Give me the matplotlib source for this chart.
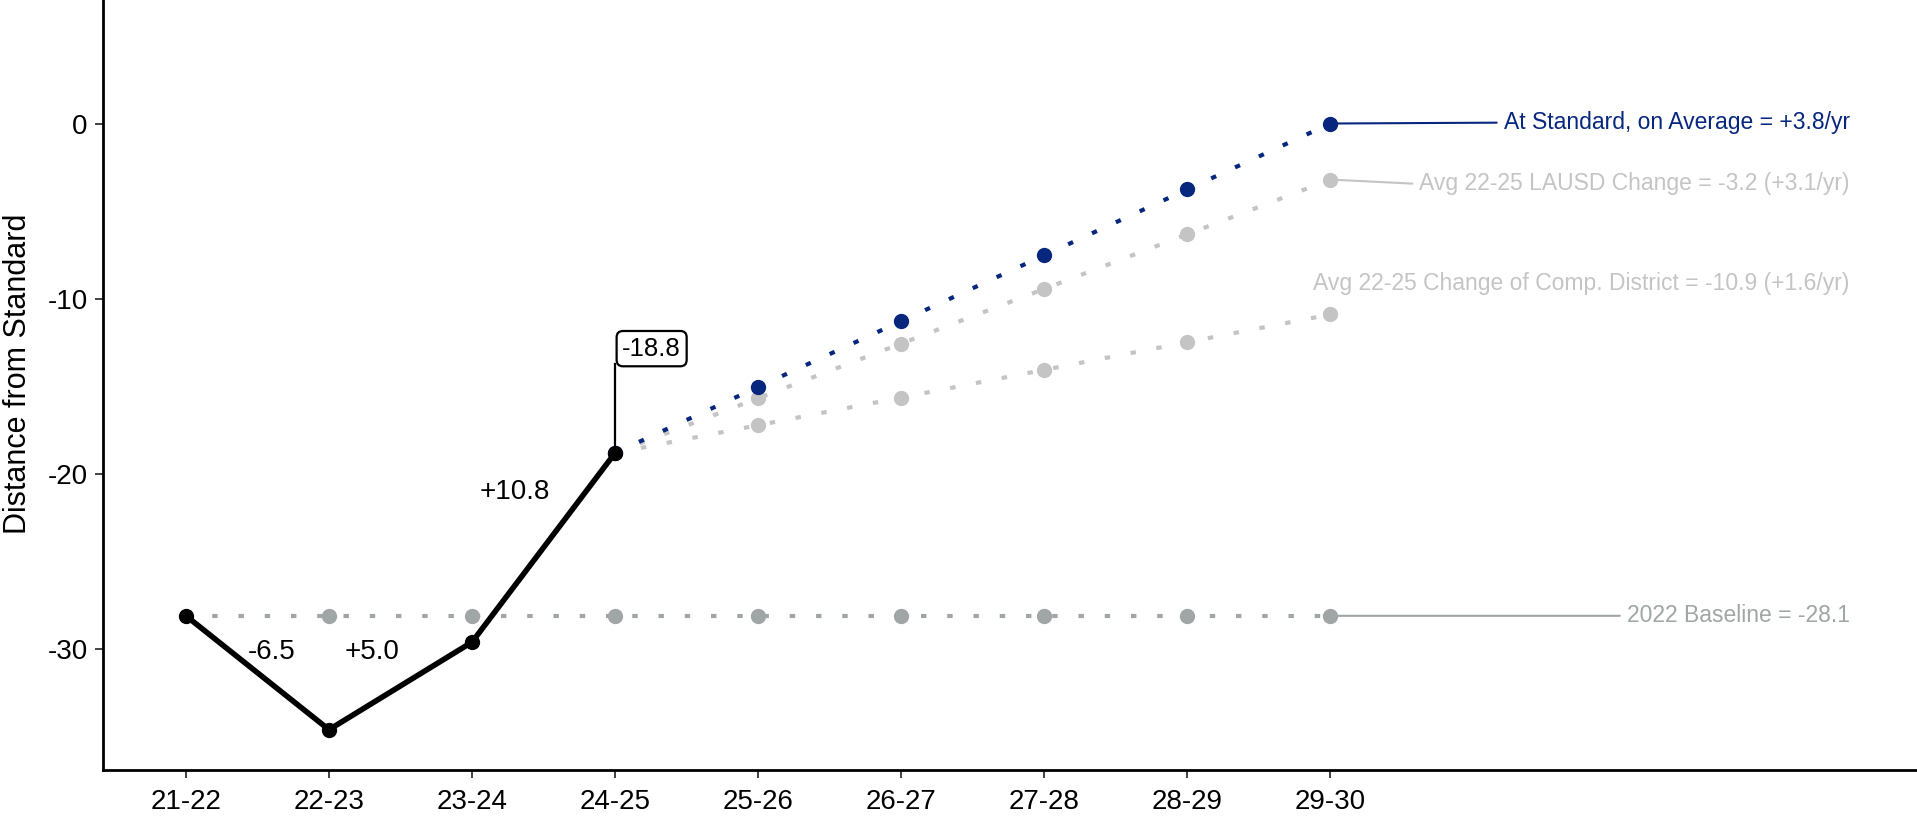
import matplotlib
matplotlib.use("Agg")
import matplotlib.pyplot as plt

plt.rcParams['font.family'] = ['Liberation Sans', 'DejaVu Sans']
plt.rcParams['axes.unicode_minus'] = False

# data
years = ['21-22', '22-23', '23-24', '24-25', '25-26', '26-27', '27-28', '28-29', '29-30']
actual = [-28.1, -34.6, -29.6, -18.8]
baseline = [-28.1] * 9
proj_standard = [-18.8, -15.04, -11.28, -7.52, -3.76, 0.0]
proj_lausd = [-18.8, -15.68, -12.56, -9.44, -6.32, -3.2]
proj_comp = [-18.8, -17.22, -15.64, -14.06, -12.48, -10.9]
changes = ['-6.5', '+5.0', '+10.8']
current_label = '-18.8'
lbl_standard = 'At Standard, on Average = +3.8/yr'
lbl_lausd = 'Avg 22-25 LAUSD Change = -3.2 (+3.1/yr)'
lbl_comp = 'Avg 22-25 Change of Comp. District = -10.9 (+1.6/yr)'
lbl_base = '2022 Baseline = -28.1'

NAVY = '#07267E'
LIGHT = '#C4C4C4'
BASE = '#A0A5A5'

fig = plt.figure(figsize=(19.17, 8.16), dpi=100)
ax = fig.add_axes([0.0537, 0.0564, 0.9463, 0.9436])

x_all = list(range(len(years)))
x_proj = x_all[3:]
dots = (0, (1.3, 5))
ms = 10

ax.plot(x_all, baseline, color=BASE, lw=3, ls=dots, zorder=2)
ax.plot(x_all[1:], baseline[1:], 'o', color=BASE, ms=ms, zorder=2)

ax.plot(x_proj, proj_comp, color=LIGHT, lw=3, ls=dots, zorder=3)
ax.plot(x_proj[1:], proj_comp[1:], 'o', color=LIGHT, ms=ms, zorder=3)
ax.plot(x_proj, proj_lausd, color=LIGHT, lw=3, ls=dots, zorder=3)
ax.plot(x_proj[1:], proj_lausd[1:], 'o', color=LIGHT, ms=ms, zorder=3)
ax.plot(x_proj, proj_standard, color=NAVY, lw=3, ls=dots, zorder=4)
ax.plot(x_proj, proj_standard, 'o', color=NAVY, ms=ms, zorder=5)

ax.plot(x_all[:4], actual, color='black', lw=4, marker='o', ms=ms, zorder=6)

# change labels between actual years
ax.text(0.6, -30.15, changes[0], fontsize=20, ha='center', va='center')
ax.text(1.3, -30.15, changes[1], fontsize=20, ha='center', va='center')
ax.text(2.3, -21.05, changes[2], fontsize=20, ha='center', va='center')

# current value callout
ax.plot([3, 3], [actual[3], -13.75], color='black', lw=1.6, zorder=5)
ax.text(3.05, -12.85, current_label, fontsize=18.5, ha='left', va='center',
        bbox=dict(boxstyle='round,pad=0.22,rounding_size=0.25', fc='white', ec='black', lw=1.6))

# right-side labels
xr = 11.63
for y_pt, y_txt, txt, col in [(proj_standard[-1], 0.05, lbl_standard, NAVY),
                             (proj_lausd[-1], -3.45, lbl_lausd, LIGHT),
                             (baseline[-1], -28.1, lbl_base, BASE)]:
    ax.annotate(txt, xy=(8, y_pt), xytext=(xr, y_txt), fontsize=16.5, color=col,
                ha='right', va='center',
                arrowprops=dict(arrowstyle='-', color=col, lw=1.5, shrinkA=3, shrinkB=0,
                                relpos=(0, 0.5)))
ax.text(xr, -9.15, lbl_comp, fontsize=16.5, color=LIGHT, ha='right', va='center')

ax.set_xlim(-0.58, 12.1)
ax.set_ylim(-36.9, 7.05)
ax.set_xticks(x_all)
ax.set_xticklabels(years)
ax.set_yticks([0, -10, -20, -30])
ax.tick_params(labelsize=20, length=6, width=1.3, color='#333333')
ax.tick_params(axis='x', pad=8)
ax.tick_params(axis='y', pad=5)
ax.set_ylabel('Distance from Standard', fontsize=22)
ax.yaxis.set_label_coords(-0.0386, 0.515)
for s in ['top', 'right']:
    ax.spines[s].set_visible(False)
for s in ['left', 'bottom']:
    ax.spines[s].set_linewidth(2)

fig.savefig('out.png', dpi=100)
